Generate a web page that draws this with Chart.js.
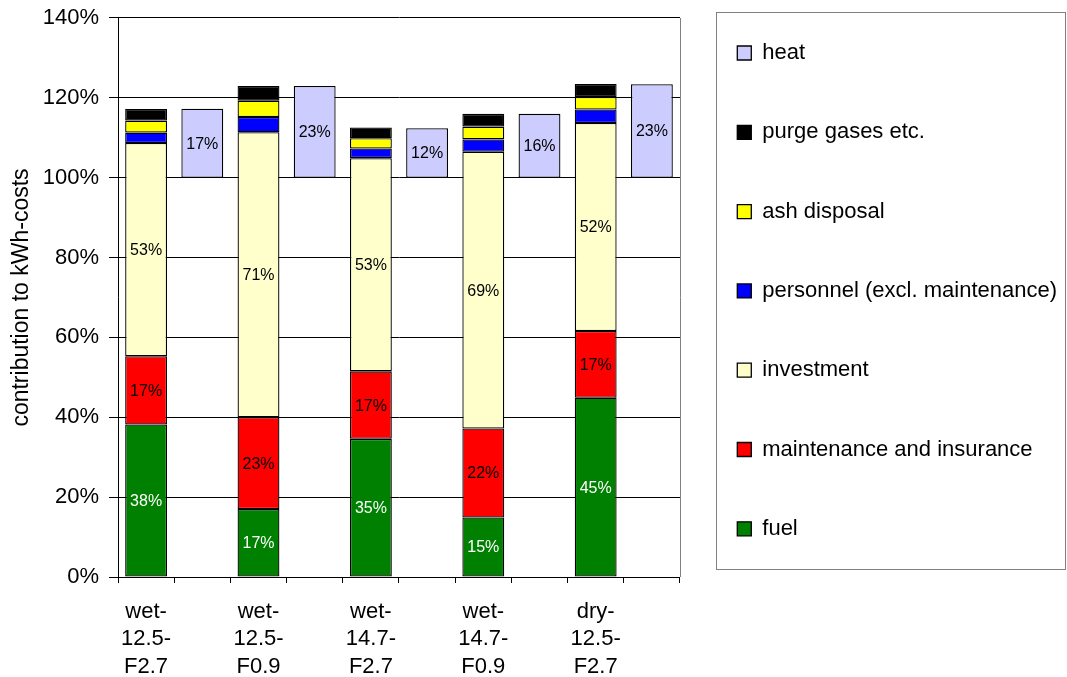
<!DOCTYPE html>
<html>
<head>
<meta charset="utf-8">
<title>contribution to kWh-costs</title>
<script src="https://cdn.jsdelivr.net/npm/chart.js@4/dist/chart.umd.min.js"></script>
<style>
  html, body { margin: 0; padding: 0; background: #fff; }
  #wrap { width: 1067px; height: 677px; position: relative; }
</style>
</head>
<body>
<div id="wrap"><canvas id="c"></canvas></div>
<script>
// Plant variants (multi-line axis labels)
const cases = [
  ['wet-', '12.5-', 'F2.7'],
  ['wet-', '12.5-', 'F0.9'],
  ['wet-', '14.7-', 'F2.7'],
  ['wet-', '14.7-', 'F0.9'],
  ['dry-', '12.5-', 'F2.7']
];

// Cost components, % of kWh-costs
const fuel        = [38.2, 17.0, 34.6, 14.9, 44.9];
const maintenance = [17.1, 23.0, 16.9, 22.3, 16.7];
const investment  = [53.4, 71.4, 53.4, 69.3, 52.1];
const personnel   = [2.6, 3.8, 2.4, 3.1, 3.4];
const ashDisposal = [3.0, 4.1, 2.6, 3.2, 3.1];
const purgeGases  = [2.9, 3.7, 2.7, 3.2, 3.3];

// Heat credit, drawn as a bar starting at 100 %
const heat = [17.3, 23.0, 12.4, 16.0, 23.4];
const heatBase = 100;

// Value axis
const yMin = 0, yMax = 140, yStep = 20;

// Each variant takes two slots: the cost stack, then the heat bar
const slotLabels = cases.flatMap(c => [c, '']);
const costSlots = arr => arr.flatMap(v => [v, null]);
const heatSlots = heat.flatMap(v => [null, [heatBase, heatBase + v]]);

const FONT = "'Liberation Sans', Arial, Helvetica, sans-serif";
Chart.defaults.font.family = FONT;
Chart.defaults.color = '#000';

const barStyle = {
  borderColor: '#000',
  borderWidth: 1.3,
  borderSkipped: false,
  categoryPercentage: 1.0,
  barPercentage: 0.745
};

// colour of the in-bar value text per dataset (null = no text)
const valueTextColor = ['#ffffff', '#000000', '#000000', null, null, null, '#000000'];

const datasets = [
  { label: 'fuel', data: costSlots(fuel), backgroundColor: '#008000' },
  { label: 'maintenance and insurance', data: costSlots(maintenance), backgroundColor: '#FF0000' },
  { label: 'investment', data: costSlots(investment), backgroundColor: '#FFFFCC' },
  { label: 'personnel (excl. maintenance)', data: costSlots(personnel), backgroundColor: '#0000FF' },
  { label: 'ash disposal', data: costSlots(ashDisposal), backgroundColor: '#FFFF00' },
  { label: 'purge gases etc.', data: costSlots(purgeGases), backgroundColor: '#000000' },
  { label: 'heat', data: heatSlots, backgroundColor: '#CCCCFF' }
].map(d => Object.assign({}, barStyle, d));

// Percent labels centred inside the bar segments
const valueLabels = {
  id: 'valueLabels',
  afterDatasetsDraw(chart) {
    const ctx = chart.ctx;
    ctx.save();
    ctx.font = '16px ' + FONT;
    ctx.textAlign = 'center';
    ctx.textBaseline = 'middle';
    chart.data.datasets.forEach((ds, di) => {
      const color = valueTextColor[di];
      if (!color) return;
      const meta = chart.getDatasetMeta(di);
      meta.data.forEach((el, i) => {
        const raw = ds.data[i];
        if (raw === null || raw === undefined) return;
        const v = Array.isArray(raw) ? raw[1] - raw[0] : raw;
        ctx.fillStyle = color;
        ctx.fillText(Math.round(v) + '%', el.x, (el.y + el.base) / 2 + 1);
      });
    });
    ctx.restore();
  }
};

// Plot-area right edge and the frame round the legend
const frames = {
  id: 'frames',
  beforeDatasetsDraw(chart) {
    const { ctx, chartArea: a } = chart;
    ctx.save();
    ctx.strokeStyle = '#808080';
    ctx.lineWidth = 1;
    ctx.beginPath();
    ctx.moveTo(Math.round(a.right) + 0.5, a.top);
    ctx.lineTo(Math.round(a.right) + 0.5, a.bottom);
    ctx.stroke();
    ctx.restore();
  },
  afterDraw(chart) {
    const lg = chart.legend;
    if (!lg || !lg.legendHitBoxes || !lg.legendHitBoxes.length) return;
    const hb = lg.legendHitBoxes;
    const first = hb[0], last = hb[hb.length - 1];
    const left = Math.round(first.left - 21) + 0.5;
    const top = Math.round(first.top - 30) + 0.5;
    const bottom = Math.round(last.top + last.height + 29) + 0.5;
    const right = chart.width - 1.5;
    const ctx = chart.ctx;
    ctx.save();
    ctx.strokeStyle = '#808080';
    ctx.lineWidth = 1;
    ctx.strokeRect(left, top, right - left, bottom - top);
    ctx.restore();
  }
};

new Chart(document.getElementById('c'), {
  type: 'bar',
  data: { labels: slotLabels, datasets },
  options: {
    responsive: true,
    maintainAspectRatio: false,
    animation: false,
    devicePixelRatio: 1,
    layout: { padding: { top: -15.3, right: 0, bottom: 0, left: 0 } },
    plugins: {
      title: { display: true, text: '', padding: { top: 0, bottom: 9.3 }, font: { size: 20 } },
      tooltip: { enabled: false },
      legend: {
        position: 'right',
        align: 'start',
        reverse: true,
        maxWidth: 420,
        labels: {
          boxWidth: 14,
          boxHeight: 14,
          padding: 57.3,
          color: '#000',
          font: { size: 22 }
        }
      }
    },
    scales: {
      x: {
        stacked: true,
        grid: { offset: true, drawOnChartArea: false, drawTicks: true, tickLength: 6, color: '#000' },
        border: { color: '#000', width: 1 },
        ticks: { autoSkip: false, maxRotation: 0, minRotation: 0, padding: 15, font: { size: 22, lineHeight: 1.25 }, color: '#000' },
        afterFit(scale) { scale.height = 100; }
      },
      y: {
        stacked: true,
        min: yMin,
        max: yMax,
        ticks: { stepSize: yStep, padding: 10, font: { size: 22 }, color: '#000', callback: v => v + '%' },
        grid: { color: '#000', tickLength: 9 },
        border: { color: '#000', width: 1 },
        title: {
          display: true,
          text: 'contribution to kWh-costs',
          font: { size: 23 },
          color: '#000',
          padding: { top: 8, bottom: 0 }
        },
        afterFit(scale) {
          scale.width = 118;
          scale.paddingTop = 0;
          scale.paddingBottom = 0;
        }
      }
    }
  },
  plugins: [frames, valueLabels]
});
</script>
</body>
</html>
